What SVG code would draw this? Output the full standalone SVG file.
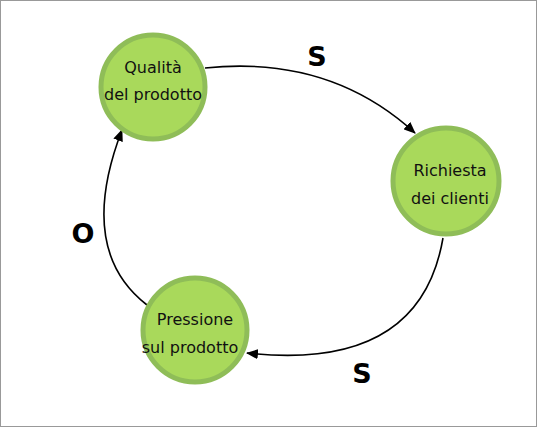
<svg xmlns="http://www.w3.org/2000/svg" width="537" height="427" viewBox="0 0 537 427">
<style>
.node circle{fill:#a9d95b;stroke:#8fbd58;stroke-width:5}
.node text{font-family:"DejaVu Sans",sans-serif;font-size:16px;fill:#111;text-anchor:middle}
.edge{fill:none;stroke:#000;stroke-width:1.6}
.lbl{font-family:"DejaVu Sans",sans-serif;font-size:27px;font-weight:bold;fill:#000;text-anchor:middle}
</style>
<defs>
<marker id="a" viewBox="0 0 12 10" refX="11" refY="5" markerWidth="12" markerHeight="10" orient="auto" markerUnits="userSpaceOnUse">
<path d="M0,0 L12,5 L0,10 z" fill="#000"/>
</marker>
</defs>
<rect x="0.5" y="0.5" width="536" height="426" fill="#fff" stroke="#999" stroke-width="1"/>
<g id="connectors">
<path class="edge" d="M205,68 Q330,55 415,133" marker-end="url(#a)"/>
<path class="edge" d="M443,238 Q420,372 247,353" marker-end="url(#a)"/>
<path class="edge" d="M147,305 Q76,250 122,130" marker-end="url(#a)"/>
<text class="lbl" x="317" y="66">S</text>
<text class="lbl" x="362" y="383">S</text>
<text class="lbl" x="83" y="243">O</text>
</g>
<g id="qualita" class="node">
<circle cx="153" cy="87" r="52"/>
<text x="153" y="73">Qualità</text>
<text x="153" y="100">del prodotto</text>
</g>
<g id="richiesta" class="node">
<circle cx="446" cy="181" r="53"/>
<text x="450" y="176">Richiesta</text>
<text x="450" y="204">dei clienti</text>
</g>
<g id="pressione" class="node">
<circle cx="195" cy="330" r="52"/>
<text x="195" y="325">Pressione</text>
<text x="190" y="353">sul prodotto</text>
</g>
</svg>
